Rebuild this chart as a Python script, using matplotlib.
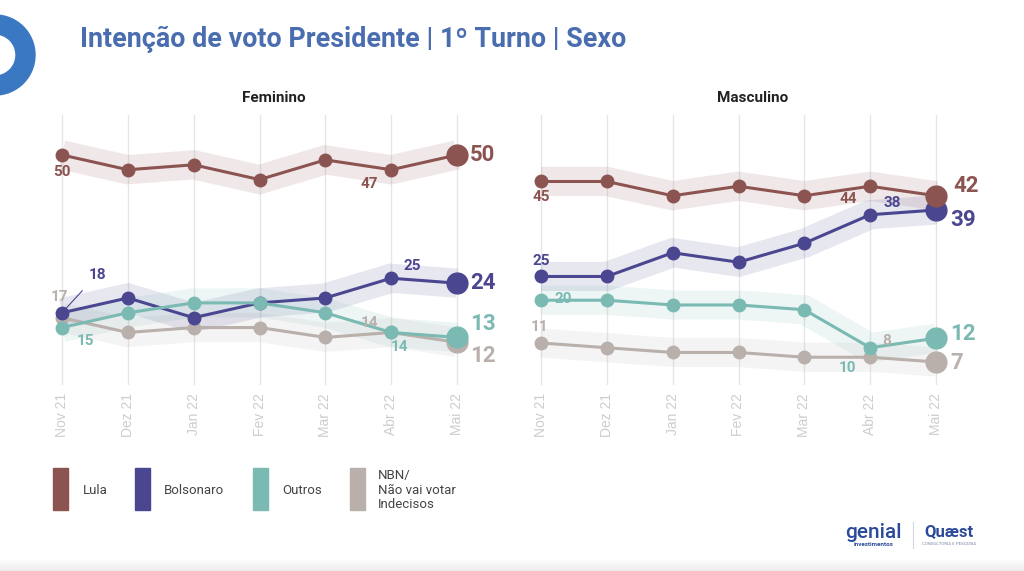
import matplotlib
matplotlib.use("Agg")
import matplotlib.pyplot as plt
from matplotlib.patches import Rectangle, Wedge
from matplotlib.lines import Line2D

MONTHS = ["Nov 21", "Dez 21", "Jan 22", "Fev 22", "Mar 22", "Abr 22", "Mai 22"]

FEM_LULA = [50, 47, 48, 45, 49, 47, 50]
FEM_BOLSONARO = [18, 21, 17, 20, 21, 25, 24]
FEM_OUTROS = [15, 18, 20, 20, 18, 14, 13]
FEM_NBN = [17, 14, 15, 15, 13, 14, 12]

MASC_LULA = [45, 45, 42, 44, 42, 44, 42]
MASC_BOLSONARO = [25, 25, 30, 28, 32, 38, 39]
MASC_OUTROS = [20, 20, 19, 19, 18, 10, 12]
MASC_NBN = [11, 10, 9, 9, 8, 8, 7]

SERIES = ["NBN", "Bolsonaro", "Outros", "Lula"]  # draw order
LEGEND = [("Lula", "Lula"), ("Bolsonaro", "Bolsonaro"), ("Outros", "Outros"),
          ("NBN", "NBN/\nNão vai votar\nIndecisos")]

COLORS = {
    "Lula": "#8c5450",
    "Bolsonaro": "#4b4690",
    "Outros": "#7bbab3",
    "NBN": "#b9b0ac",
}

# (series, index, dx px, dy px)
FEM_LABELS = [
    ("Lula", 0, 0, -17), ("Lula", 5, -22, -14),
    ("NBN", 0, -3, 21), ("Outros", 0, 23, -13),
    ("Bolsonaro", 5, 21, 12), ("NBN", 5, -22, 9), ("Outros", 5, 8, -15),
]
FEM_END = {"Lula": 0, "Bolsonaro": 0, "Outros": 13, "NBN": -14}

MASC_LABELS = [
    ("Lula", 0, 0, -16), ("Lula", 5, -22, -13),
    ("Bolsonaro", 0, 0, 15), ("Bolsonaro", 5, 22, 12),
    ("Outros", 0, 22, 1), ("NBN", 0, -2, 16),
    ("Outros", 5, -23, -20), ("NBN", 5, 17, 16),
]
MASC_END = {"Lula": (17, 10), "Bolsonaro": (14, -10), "Outros": (14, 4), "NBN": (14, -1)}

plt.rcParams["font.family"] = ["Roboto", "DejaVu Sans"]

W, H = 1024, 571


def fx(px):
    return px / W


def fy(py):
    return 1 - py / H


def draw_panel(ax, data, ylim, title, labels, end_offsets, callout=False):
    x = list(range(len(MONTHS)))
    for name in SERIES:
        ax.plot(x, data[name], color=COLORS[name], lw=21, alpha=0.13,
                solid_capstyle="butt", solid_joinstyle="miter", zorder=1)
    for k, name in enumerate(SERIES):
        vals = data[name]
        ax.plot(x, vals, color=COLORS[name], lw=2.2, marker="o", ms=9,
                zorder=3 + k)
        ax.plot(x[-1], vals[-1], marker="o", ms=15, color=COLORS[name], zorder=3 + k)
        off = end_offsets[name]
        dx, dy = off if isinstance(off, tuple) else (13, off)
        ax.annotate(str(vals[-1]), (x[-1], vals[-1]), xytext=(dx, dy),
                    textcoords="offset pixels", ha="left", va="center",
                    fontsize=16, fontweight="bold", color=COLORS[name], zorder=10)
    for name, i, dx, dy in labels:
        v = data[name][i]
        ax.annotate(str(v), (i, v), xytext=(dx, dy), textcoords="offset pixels",
                    ha="center", va="center", fontsize=11, fontweight="bold",
                    color=COLORS[name], zorder=10)
    if callout:
        v = data["Bolsonaro"][0]
        ax.annotate(str(v), (0, v), xytext=(35, 38), textcoords="offset pixels",
                    ha="center", va="center", fontsize=11, fontweight="bold",
                    color=COLORS["Bolsonaro"], zorder=10,
                    arrowprops=dict(arrowstyle="-", color=COLORS["Bolsonaro"],
                                    lw=0.8, shrinkA=6, shrinkB=2))
    ax.set_xlim(-0.3, 6.3)
    ax.set_ylim(*ylim)
    ax.set_xticks(x)
    ax.set_xticklabels(MONTHS, rotation=90, fontsize=10, color="#cdcdcd",
                       family=["Liberation Sans", "DejaVu Sans"])
    ax.tick_params(axis="x", length=0, pad=6)
    ax.set_yticks([])
    ax.grid(axis="x", color="#e6e6e6", lw=1)
    ax.set_axisbelow(True)
    for s in ax.spines.values():
        s.set_visible(False)
    ax.set_title(title, fontsize=11, fontweight="bold", color="#222222",
                 pad=9, x=0.532)


fig = plt.figure(figsize=(W / 100, H / 100), dpi=100)

ax1 = fig.add_axes([fx(42.25), fy(385), fx(434.5), (385 - 115) / H])
ax2 = fig.add_axes([fx(521.25), fy(385), fx(434.5), (385 - 115) / H])

fem = {"Lula": FEM_LULA, "Bolsonaro": FEM_BOLSONARO, "Outros": FEM_OUTROS, "NBN": FEM_NBN}
masc = {"Lula": MASC_LULA, "Bolsonaro": MASC_BOLSONARO, "Outros": MASC_OUTROS, "NBN": MASC_NBN}

draw_panel(ax1, fem, (3.35, 58.1), "Feminino", FEM_LABELS, FEM_END, callout=True)
draw_panel(ax2, masc, (2.15, 59.0), "Masculino", MASC_LABELS, MASC_END)

# header
fig.text(fx(80), fy(39), "Intenção de voto Presidente | 1º Turno | Sexo",
         fontsize=19.4, fontweight="bold", color="#4a6db0", ha="left", va="center")
fig.add_artist(Wedge((-0.05, 5.16), 0.40, 0, 360, width=0.19, color="#3b78c2",
                     transform=fig.dpi_scale_trans))

# legend
legend_x = [(53, 83), (135, 164), (253, 282), (350, 378)]
for (key, text), (rx, tx) in zip(LEGEND, legend_x):
    fig.add_artist(Rectangle((fx(rx), fy(510)), fx(15), (510 - 468) / H,
                             color=COLORS[key], transform=fig.transFigure))
    fig.text(fx(tx), fy(490), text, fontsize=9.5, color="#444444",
             ha="left", va="center", linespacing=1.15)

# logos
fig.text(fx(873), fy(533), "genial", fontsize=15, color="#2c4a9a", ha="center",
         va="center", fontweight="medium")
fig.text(fx(874), fy(545), "investimentos", fontsize=4.5, color="#2c4a9a",
         ha="center", va="center", fontweight="bold")
fig.add_artist(Line2D([fx(913), fx(913)], [fy(522), fy(548)], color="#d0d8e8",
                      lw=0.8, transform=fig.transFigure))
fig.text(fx(949), fy(532), "Quæst", fontsize=12, color="#2c4a9a", ha="center",
         va="center", fontweight="bold")
fig.text(fx(949), fy(544), "CONSULTORIA E PESQUISA", fontsize=3.2, color="#7a86a8",
         ha="center", va="center")

# bottom strip
for k in range(12):
    fig.add_artist(Rectangle((0, fy(571 - k)), 1, 1 / H, color="#000000",
                             alpha=0.012 * (12 - k) / 2, transform=fig.transFigure,
                             lw=0))

fig.savefig("out.png", dpi=100)
